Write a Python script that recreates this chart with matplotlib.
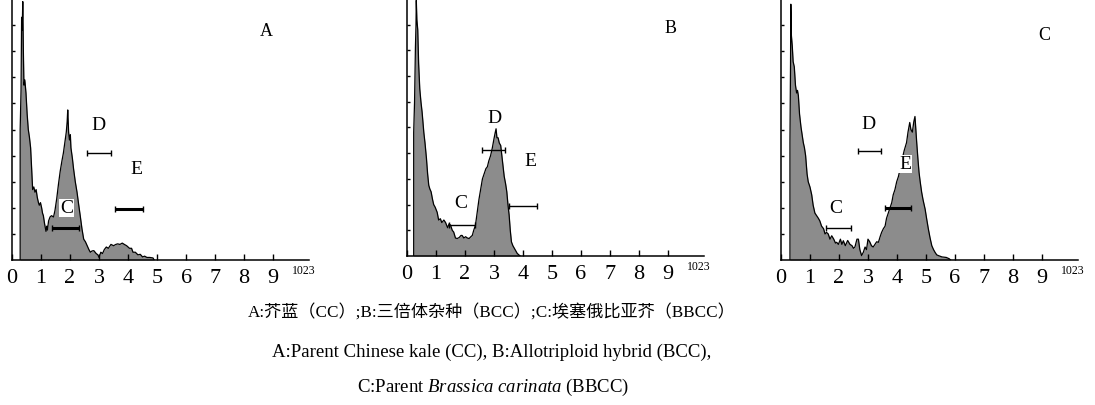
import matplotlib
matplotlib.use("Agg")
import matplotlib.pyplot as plt

plt.rcParams['font.family'] = ['Liberation Serif', 'Noto Sans CJK SC', 'DejaVu Sans']
plt.rcParams['mathtext.fontset'] = 'custom'
plt.rcParams['mathtext.rm'] = 'Liberation Serif'
plt.rcParams['mathtext.it'] = 'Liberation Serif:italic'

# relative DNA content (x 100 channels) and cell counts (tick units)
a_x = [0.28, 0.28, 0.31, 0.33, 0.35, 0.37, 0.39, 0.41, 0.44, 0.48, 0.52, 0.56, 0.60, 0.64, 0.68,
       0.71, 0.75, 0.79, 0.83, 0.87, 0.91, 0.94, 0.98, 1.02, 1.05, 1.08, 1.12, 1.17, 1.20, 1.22,
       1.26, 1.31, 1.36, 1.43, 1.48, 1.54, 1.60, 1.66, 1.72, 1.77, 1.82, 1.87, 1.90, 1.92, 1.95,
       1.98, 2.01, 2.03, 2.08, 2.12, 2.18, 2.24, 2.30, 2.35, 2.41, 2.47, 2.53, 2.59, 2.65, 2.70,
       2.76, 2.82, 2.90, 2.96, 3.00, 3.06, 3.12, 3.18, 3.25, 3.32, 3.41, 3.50, 3.58, 3.64, 3.72,
       3.80, 3.87, 3.95, 4.05, 4.12, 4.17, 4.25, 4.34, 4.42, 4.50, 4.57, 4.65, 4.75, 4.86, 4.90]
a_h = [0, 5.0, 6.5, 9.3, 8.8, 9.9, 8.0, 6.7, 6.9, 6.4, 5.6, 5.0, 4.7, 4.3, 3.4,
       2.7, 2.8, 2.6, 2.7, 2.4, 2.2, 2.1, 2.2, 2.0, 1.8, 1.7, 1.4, 1.1, 1.3, 1.15,
       1.5, 1.65, 1.7, 1.65, 1.9, 2.35, 2.9, 3.4, 3.8, 4.1, 4.5, 4.9, 5.3, 5.75, 4.9,
       4.6, 4.8, 4.3, 3.9, 3.5, 3.0, 2.6, 2.1, 1.7, 1.2, 0.8, 0.7, 0.55, 0.4, 0.3,
       0.35, 0.36, 0.25, 0.2, 0.1, 0.3, 0.25, 0.4, 0.5, 0.45, 0.6, 0.55, 0.6, 0.62, 0.6,
       0.65, 0.6, 0.55, 0.45, 0.45, 0.3, 0.3, 0.2, 0.22, 0.12, 0.15, 0.1, 0.1, 0.08, 0]

b_x = [0.23, 0.23, 0.26, 0.29, 0.31, 0.32, 0.34, 0.37, 0.40, 0.44, 0.48, 0.52, 0.55, 0.58, 0.62,
       0.67, 0.71, 0.75, 0.79, 0.83, 0.88, 0.92, 0.97, 1.04, 1.09, 1.15, 1.20, 1.27, 1.33, 1.40,
       1.45, 1.50, 1.56, 1.61, 1.67, 1.73, 1.80, 1.86, 1.90, 1.96, 2.02, 2.08, 2.14, 2.20, 2.25,
       2.30, 2.36, 2.42, 2.48, 2.54, 2.60, 2.66, 2.72, 2.77, 2.82, 2.88, 2.94, 3.00, 3.04, 3.07,
       3.10, 3.14, 3.18, 3.23, 3.28, 3.35, 3.40, 3.44, 3.48, 3.52, 3.56, 3.60, 3.65, 3.70, 3.75,
       3.80, 3.90]
b_h = [0, 4.8, 6.0, 8.1, 9.0, 9.95, 9.2, 8.8, 7.5, 6.5, 6.0, 5.6, 5.2, 4.8, 4.4,
       3.8, 3.2, 2.75, 2.6, 2.5, 2.2, 2.0, 1.9, 1.7, 1.4, 1.45, 1.3, 1.4, 1.3, 1.1,
       1.25, 1.2, 1.0, 0.93, 0.7, 0.68, 0.72, 0.8, 0.8, 0.7, 0.75, 0.7, 0.68, 0.75, 0.8,
       1.0, 1.2, 1.7, 2.2, 2.6, 3.0, 3.2, 3.4, 3.47, 3.7, 3.9, 4.2, 4.57, 4.8, 4.95,
       4.6, 4.6, 4.4, 4.3, 3.8, 3.1, 2.8, 2.5, 2.0, 1.6, 1.0, 0.55, 0.4, 0.3, 0.2,
       0.1, 0]

c_x = [0.31, 0.31, 0.33, 0.34, 0.36, 0.39, 0.42, 0.46, 0.50, 0.54, 0.57, 0.60, 0.64, 0.69, 0.73,
       0.77, 0.81, 0.85, 0.90, 0.94, 1.00, 1.06, 1.11, 1.17, 1.23, 1.29, 1.34, 1.40, 1.47, 1.52,
       1.57, 1.63, 1.69, 1.75, 1.82, 1.88, 1.92, 1.98, 2.05, 2.10, 2.15, 2.22, 2.30, 2.38, 2.45,
       2.50, 2.55, 2.62, 2.67, 2.72, 2.78, 2.84, 2.90, 2.95, 3.00, 3.06, 3.12, 3.18, 3.24, 3.30,
       3.36, 3.42, 3.47, 3.53, 3.59, 3.64, 3.70, 3.76, 3.82, 3.87, 3.93, 3.99, 4.05, 4.11, 4.18,
       4.25, 4.33, 4.38, 4.44, 4.48, 4.53, 4.58, 4.62, 4.65, 4.68, 4.72, 4.76, 4.80, 4.85, 4.90,
       4.97, 5.02, 5.08, 5.14, 5.20, 5.26, 5.31, 5.37, 5.43, 5.55, 5.70, 5.80, 5.85]
c_h = [0, 4.5, 7.5, 9.8, 8.6, 8.2, 7.6, 7.4, 6.7, 6.4, 6.5, 6.3, 5.6, 5.1, 4.8,
       4.5, 4.3, 4.0, 3.3, 3.0, 2.8, 2.5, 2.1, 1.8, 1.7, 1.6, 1.5, 1.3, 1.2, 1.0,
       1.06, 1.0, 0.8, 0.93, 0.8, 0.65, 0.68, 0.6, 0.8, 0.6, 0.74, 0.55, 0.75, 0.6, 0.55,
       0.45, 0.5, 0.8, 0.8, 0.4, 0.17, 0.3, 0.5, 0.4, 0.8, 0.7, 0.55, 0.5, 0.6, 0.7,
       0.68, 0.9, 1.06, 1.2, 1.3, 1.6, 1.8, 2.0, 2.2, 2.5, 2.7, 3.0, 3.2, 3.5, 3.87,
       4.2, 4.5, 4.9, 5.27, 5.0, 4.9, 5.3, 5.5, 5.0, 4.5, 3.9, 3.36, 3.0, 2.6, 2.3,
       1.95, 1.6, 1.2, 0.85, 0.55, 0.4, 0.3, 0.2, 0.17, 0.12, 0.1, 0.05, 0]

# gates: (name, start, end, level, thick)
a_gates = [('D', 2.60, 3.40, 4.10, False), ('E', 3.55, 4.50, 1.96, True), ('C', 1.38, 2.30, 1.22, True)]
b_gates = [('D', 2.60, 3.38, 4.14, False), ('E', 3.52, 4.48, 1.95, False), ('C', 1.44, 2.36, 1.22, False)]
c_gates = [('D', 2.64, 3.45, 4.16, False), ('E', 3.59, 4.50, 1.99, True), ('C', 1.57, 2.41, 1.24, False)]

# gate labels: (text, x, y, boxed)
a_labels = [('D', 2.98, 5.2, False), ('E', 4.28, 3.5, False), ('C', 1.88, 2.0, True)]
b_labels = [('D', 3.02, 5.4, False), ('E', 4.27, 3.7, False), ('C', 1.85, 2.1, False)]
c_labels = [('D', 3.03, 5.25, False), ('E', 4.28, 3.68, True), ('C', 1.90, 2.0, False)]

panel_names = ['A', 'B', 'C']
panel_pos = [(8.78, 8.8), (9.09, 8.9), (9.08, 8.65)]
xticks = list(range(10))
ytick_vals = list(range(1, 10))

caption_cn = 'A:芥蓝（CC）;B:三倍体杂种（BCC）;C:埃塞俄比亚芥（BBCC）'
caption_en1 = 'A:Parent Chinese kale (CC), B:Allotriploid hybrid (BCC),'
caption_en2 = r'C:Parent $\mathit{Brassica\ carinata}$ (BBCC)'

fig = plt.figure(figsize=(10.95, 4.06), dpi=100)
axes_rect = [[0.011, 0.357, 0.271, 0.643],
             [0.3717, 0.367, 0.271, 0.633],
             [0.7132, 0.357, 0.271, 0.643]]

series = [(a_x, a_h, a_gates, a_labels), (b_x, b_h, b_gates, b_labels), (c_x, c_h, c_gates, c_labels)]

for i, (xs, hs, gates, labels) in enumerate(series):
    ax = fig.add_axes(axes_rect[i])
    ax.fill_between(xs, hs, 0, color='#8c8c8c', lw=0)
    ax.plot(xs, hs, color='black', lw=0.9)
    for name, x0, x1, lev, thick in gates:
        lw = 2.2 if thick else 1.0
        ax.plot([x0, x1], [lev, lev], color='black', lw=lw, solid_capstyle='butt')
        ax.plot([x0, x1], [lev, lev], ls='none', marker='|', ms=5, mew=1.0, color='black')
    for txt, x, y, boxed in labels:
        kw = {}
        if boxed:
            kw['bbox'] = dict(facecolor='white', edgecolor='none', pad=0.5)
        ax.text(x, y, txt, fontsize=14, ha='center', va='center', **kw)
    ax.text(panel_pos[i][0], panel_pos[i][1], panel_names[i], fontsize=13, ha='center', va='center')
    ax.text(10.05, -0.38, '1023', fontsize=8.5, ha='center', va='center', clip_on=False)

    ax.set_xlim(0, 10.23)
    ax.set_ylim(0, 10)
    ax.set_xticks(xticks)
    ax.set_yticks(ytick_vals)
    ax.set_yticklabels([])
    ax.tick_params(axis='x', direction='in', length=4, width=1, labelsize=16, pad=6)
    ax.tick_params(axis='y', direction='in', length=2.5, width=1)
    for s in ['top', 'right']:
        ax.spines[s].set_visible(False)
    for s in ['left', 'bottom']:
        ax.spines[s].set_linewidth(1.1)
    ax.set_facecolor('none')

fig.text(0.449, 1 - 313 / 406, caption_cn, fontsize=12.3, ha='center', va='center')
fig.text(0.449, 1 - 352 / 406, caption_en1, fontsize=13.5, ha='center', va='center')
fig.text(0.450, 1 - 387 / 406, caption_en2, fontsize=13.5, ha='center', va='center')

fig.savefig('out.png', dpi=100)
